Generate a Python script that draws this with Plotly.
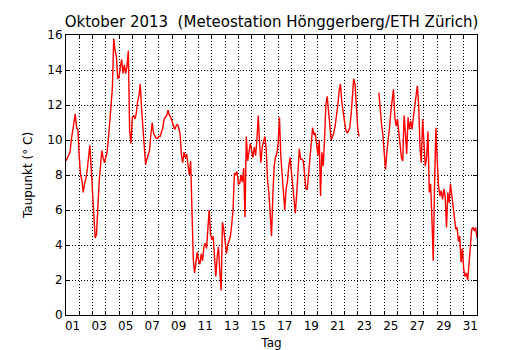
import plotly.graph_objects as go
import pandas as pd

# Measurement times: every 144 minutes (0.1 day), 1 Oct 2013 00:00 .. 1 Nov 2013 00:00
zeit = pd.date_range("2013-10-01 00:00", "2013-11-01 00:00", freq="144min")

# Dew point (deg C), 10 values per day
taupunkt = [
    8.8, 9.0, 9.1, 9.3, 10.0, 10.6, 11.0, 11.5, 10.7, 10.6,      # 01
    9.0, 8.0, 7.7, 7.0, 7.5, 7.8, 8.3, 8.9, 9.7, 8.4,            # 02
    7.0, 5.4, 4.4, 4.6, 6.3, 7.6, 8.5, 9.4, 9.0, 8.7,            # 03
    9.0, 9.3, 10.1, 11.4, 12.0, 13.0, 15.8, 15.1, 14.8, 13.5,    # 04
    13.6, 14.2, 14.6, 13.8, 14.3, 13.8, 14.2, 15.1, 10.5, 9.8,   # 05
    11.3, 11.4, 11.2, 11.5, 12.2, 12.5, 13.2, 11.8, 10.6, 9.7,   # 06
    8.6, 8.9, 9.1, 9.4, 10.3, 11.0, 10.4, 10.2, 10.1, 10.1,      # 07
    10.2, 10.2, 10.5, 10.7, 11.2, 11.3, 11.4, 11.7, 11.4, 11.3,  # 08
    11.1, 10.8, 10.6, 10.8, 10.9, 10.7, 10.4, 9.2, 8.7, 9.3,     # 09
    9.0, 9.2, 8.6, 8.0, 8.8, 5.4, 3.2, 2.4, 3.2, 3.6,            # 10
    3.1, 2.9, 3.5, 3.1, 3.9, 4.1, 3.8, 4.9, 6.0, 4.6,            # 11
    4.3, 4.5, 3.0, 2.2, 3.3, 3.9, 2.5, 1.4, 5.3, 4.9,            # 12
    4.2, 3.5, 4.0, 4.3, 4.5, 5.2, 6.0, 8.1, 8.0, 8.2,            # 13
    7.5, 7.5, 8.0, 7.6, 8.4, 5.6, 10.2, 8.8, 9.4, 9.8,           # 14
    9.4, 9.0, 9.6, 9.1, 10.0, 11.4, 9.8, 8.7, 9.6, 10.0,         # 15
    10.2, 9.5, 7.7, 7.0, 5.8, 4.5, 6.8, 8.5, 9.0, 9.2,           # 16
    9.8, 11.3, 9.1, 8.0, 7.3, 6.0, 7.2, 7.6, 8.5, 9.0,           # 17
    8.2, 7.4, 6.7, 5.8, 6.9, 8.5, 9.5, 8.9, 8.9, 8.8,            # 18
    7.9, 7.2, 7.2, 8.2, 8.9, 9.8, 10.7, 10.3, 10.4, 9.8,         # 19
    9.1, 10.0, 6.8, 9.3, 8.5, 10.0, 12.0, 12.5, 11.5, 10.8,      # 20
    10.0, 10.2, 10.4, 10.8, 11.3, 12.0, 12.8, 13.2, 12.2, 11.5,  # 21
    11.1, 10.6, 10.4, 10.5, 10.7, 11.4, 12.6, 13.5, 13.2, 11.7,  # 22
    10.7, 10.2, None, None, None, None, None, None, None, None,  # 23
    None, None, None, None, None, None, 12.7, 11.6, 10.9, 10.3,  # 24
    9.4, 8.3, 9.3, 9.9, 10.7, 11.6, 12.5, 12.9, 11.3, 10.8,      # 25
    11.2, 10.5, 9.8, 9.0, 8.8, 11.4, 10.4, 9.2, 11.3, 10.6,      # 26
    11.1, 10.6, 11.3, 11.9, 12.3, 13.1, 12.0, 9.6, 8.7, 11.2,    # 27
    9.8, 8.5, 9.0, 10.5, 7.0, 7.5, 5.5, 3.1, 7.5, 10.7,          # 28
    8.8, 7.4, 6.8, 7.1, 6.6, 7.2, 6.8, 5.0, 7.0, 6.4,            # 29
    7.5, 6.8, 6.1, 5.3, 4.9, 5.0, 4.2, 4.5, 3.0, 3.8,            # 30
    2.6, 2.2, 2.4, 2.0, 3.0, 4.2, 4.9, 5.0, 4.8, 5.0,            # 31
    4.4,
]

# Axis labelling
tag_labels = ["01", "03", "05", "07", "09", "11", "13", "15",
              "17", "19", "21", "23", "25", "27", "29", "31"]
tag_label_pos = pd.date_range("2013-10-01 12:00", periods=len(tag_labels), freq="2D")
tag_grenzen = pd.date_range("2013-10-02", "2013-10-31", freq="D")
y_ticks = [0, 2, 4, 6, 8, 10, 12, 14, 16]

fig = go.Figure(
    go.Scatter(
        x=zeit, y=taupunkt, mode="lines",
        line=dict(color="#ff0000", width=1.4),
        connectgaps=False, showlegend=False,
    )
)

grid_common = dict(gridcolor="black", griddash="1px,2px", gridwidth=0.7)

# page body has an 8px margin, so the figure is sized 522x342 to fill the 530x350 window
W, H = 522, 342
fig.update_layout(
    width=W, height=H,
    margin=dict(l=58, r=53, t=27, b=35, autoexpand=False),
    paper_bgcolor="white", plot_bgcolor="white",
    font=dict(family="DejaVu Sans", size=12, color="black"),
    title=dict(
        text="Oktober 2013  (Meteostation Hönggerberg/ETH Zürich)",
        x=0.5, xref="paper", xanchor="center",
        y=1 - 14 / H, yref="container", yanchor="middle",
        font=dict(family="DejaVu Sans", size=15, color="black"),
    ),
    showlegend=False,
)

fig.update_xaxes(
    type="date",
    range=[zeit[0], zeit[-1]],
    tickmode="array", tickvals=tag_label_pos, ticktext=tag_labels,
    ticks="", showgrid=False,
    showline=True, linecolor="black", linewidth=1, mirror="allticks",
    minor=dict(tickmode="array", tickvals=tag_grenzen, ticks="inside",
               ticklen=4, tickcolor="black", tickwidth=1,
               showgrid=True, **grid_common),
    title=dict(text="Tag", font=dict(size=12), standoff=8),
    zeroline=False, automargin=False,
)

fig.update_yaxes(
    range=[0, 16],
    tickmode="array", tickvals=y_ticks,
    ticks="inside", ticklen=4, tickcolor="black", tickwidth=1,
    showgrid=True, **grid_common,
    showline=True, linecolor="black", linewidth=1, mirror="allticks",
    title=dict(text="Taupunkt (° C)", font=dict(size=12), standoff=12),
    zeroline=False, automargin=False,
)

fig.write_html("out.html")
